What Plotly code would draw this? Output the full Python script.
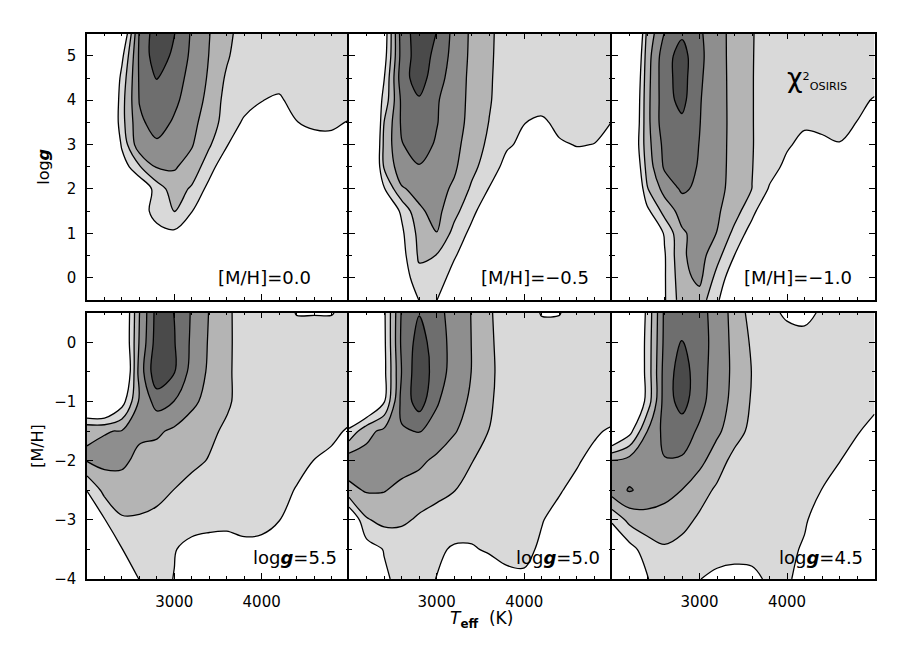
import plotly.graph_objects as go
from plotly.subplots import make_subplots

# grid
teff = [2000, 2200, 2400, 2600, 2800, 3000, 3200, 3400, 3600, 3800, 4000, 4200, 4400, 4600, 4800, 5000]
logg = [5.5, 5.0, 4.5, 4.0, 3.5, 3.0, 2.5, 2.0, 1.5, 1.0, 0.5, 0.0, -0.5]
mh = [0.5, 0.0, -0.5, -1.0, -1.5, -2.0, -2.5, -3.0, -3.5, -4.0]

# chi2 contour level at each grid node (0 = outside outer contour, >5 = best fit)
# rows go from top of the panel to the bottom
lev_mh00 = [
    [0, 0, -0.42, 4.11, 5.6, 5.03, 3.87, 3.03, 2.27, 1.55, 1.5, 1.5, 1.5, 1.5, 1.5, 1.5],
    [0, -0.5, 0.73, 4.18, 5.6, 4.77, 3.8, 2.97, 2.14, 1.35, 1.5, 1.5, 1.5, 1.5, 1.5, 1.5],
    [0, -1.7, 1.35, 4.12, 5.05, 4.41, 3.69, 2.87, 1.85, 1.5, 1.5, 1.5, 1.5, 1.5, 1.5, 1.5],
    [0, -1.68, 1.63, 4.05, 4.6, 4.2, 3.52, 2.72, 1.65, 1.4, 1.03, 0.8, 1.52, 1.5, 1.5, 1.5],
    [0, -1.45, 1.65, 3.8, 4.4, 3.88, 3.3, 2.47, 1.59, 0.85, 0.6, 0.6, 0.97, 1.2, 1.15, 0.95],
    [0, -2.3, 1.2, 3.7, 3.85, 3.6, 3.08, 2.12, 1.06, 0.5, 0.4, 0.4, 0.5, 0.58, 0.73, 0.6],
    [0, 0, 0.35, 1.9, 3.1, 3.1, 2.6, 1.44, 0.2, 0.2, 0.2, 0.2, 0.2, 0.2, 0.2, 0.2],
    [0, 0, 0, -0.1, 1.48, 2.5, 1.86, 0.66, 0.2, 0.2, 0.2, 0.2, 0.2, 0.2, 0.2, 0.2],
    [0, 0, 0, 0.22, 1.6, 2.02, 1.04, 0, 0, 0, 0, 0, 0, 0, 0, 0],
    [0, 0, 0, 0, 0.49, 0.8, 0, 0, 0, 0, 0, 0, 0, 0, 0, 0],
    [0, 0, 0, 0, 0, 0, 0, 0, 0, 0, 0, 0, 0, 0, 0, 0],
    [0, 0, 0, 0, 0, 0, 0, 0, 0, 0, 0, 0, 0, 0, 0, 0],
    [0, 0, 0, 0, 0, 0, 0, 0, 0, 0, 0, 0, 0, 0, 0, 0],
]
lev_mh05 = [
    [0, 0, 0.3, 4.5, 5.5, 4.98, 3.68, 2.83, 2.19, 1.52, 1.5, 1.5, 1.5, 1.5, 1.5, 1.5],
    [0, 0, 0.5, 4.4, 5.5, 4.74, 3.62, 2.81, 2.16, 1.51, 1.5, 1.5, 1.5, 1.5, 1.5, 1.5],
    [0, 0, 0.95, 4.6, 5.45, 4.44, 3.5, 2.78, 2.13, 1.45, 1.5, 1.5, 1.5, 1.5, 1.5, 1.5],
    [0, -1, 1.3, 4.2, 4.9, 4.1, 3.44, 2.76, 2.09, 1.41, 1.5, 1.5, 1.5, 1.5, 1.5, 1.5],
    [0, -3, 2.0, 4.15, 4.5, 4.05, 3.4, 2.71, 1.97, 1.5, 1.02, 0.8, 1.3, 1.4, 1.3, 0.97],
    [0, -2.8, 2.25, 3.95, 4.4, 3.89, 3.28, 2.55, 1.78, 1.12, 0.8, 0.6, 0.87, 1.05, 0.98, 0.7],
    [0, -2.4, 2.12, 3.6, 3.95, 3.6, 3.15, 2.29, 1.48, 0.69, 0.5, 0.5, 0.5, 0.5, 0.5, 0.5],
    [0, 0, 0.9, 2.89, 3.3, 3.35, 2.84, 1.84, 0.95, 0.5, 0.5, 0.5, 0.5, 0.5, 0.5, 0.5],
    [0, 0, 0, 1.15, 2.85, 3.3, 2.32, 1.27, 0.29, 0.3, 0.3, 0.3, 0.3, 0.3, 0.3, 0.3],
    [0, 0, 0, 0.8, 2.3, 2.98, 1.67, 0.72, 0.3, 0.3, 0.3, 0.3, 0.3, 0.3, 0.3, 0.3],
    [0, 0, 0, 0.6, 2.15, 1.98, 1.12, 0.22, 0.2, 0.2, 0.2, 0.2, 0.2, 0.2, 0.2, 0.2],
    [0, 0, 0, 0.3, 1.7, 1.6, 0.53, 0.2, 0.2, 0.2, 0.2, 0.2, 0.2, 0.2, 0.2, 0.2],
    [0, 0, 0, 0.2, 1.02, 1.02, 0.2, 0.2, 0.2, 0.2, 0.2, 0.2, 0.2, 0.2, 0.2, 0.2],
]
lev_mh10 = [
    [0, -2.8, 2.25, 4.05, 4.85, 4.15, 3.37, 2.67, 2.07, 1.46, 1.5, 1.5, 1.5, 1.5, 1.5, 1.5],
    [0, -2.13, 2.5, 4.6, 5.4, 4.23, 3.37, 2.68, 2.06, 1.43, 1.5, 1.5, 1.5, 1.5, 1.5, 1.5],
    [0, -1.6, 2.6, 4.64, 5.4, 4.15, 3.37, 2.7, 2.05, 1.43, 1.5, 1.5, 1.5, 1.5, 1.5, 1.5],
    [0, -1.31, 2.67, 4.59, 5.3, 4.07, 3.37, 2.71, 2.05, 1.43, 1.5, 1.5, 1.5, 1.5, 1.3, 0.9],
    [0, -1.14, 2.67, 4.6, 4.8, 4.03, 3.37, 2.72, 2.05, 1.43, 1.3, 1.15, 1.3, 1.35, 0.98, 0.6],
    [0, -0.76, 2.6, 4.3, 4.45, 3.98, 3.36, 2.71, 2.04, 1.57, 1.12, 0.73, 0.75, 0.95, 0.6, 0.3],
    [0, -1.23, 2.37, 4.15, 4.4, 3.92, 3.33, 2.71, 2.03, 1.39, 0.76, 0.5, 0.5, 0.5, 0.5, 0.3],
    [0, -2, 1.9, 3.36, 4.15, 3.8, 3.28, 2.68, 1.99, 0.9, 0.5, 0.5, 0.5, 0.5, 0.5, 0.3],
    [0, 0, 0.7, 2.37, 3.4, 3.55, 3.15, 2.41, 1.3, 0.0, 0.3, 0.3, 0.3, 0.3, 0.3, 0.3],
    [0, 0, -0.69, 1.12, 2.85, 3.4, 2.98, 1.72, 0.52, 0.3, 0.3, 0.3, 0.3, 0.3, 0.3, 0.3],
    [0, 0, 0, 0.9, 2.86, 3.4, 2.35, 0.99, 0.3, 0.3, 0.3, 0.3, 0.3, 0.3, 0.3, 0.3],
    [0, 0, 0, 0.9, 2.67, 3.25, 1.66, 0.27, 0.3, 0.3, 0.3, 0.3, 0.3, 0.3, 0.3, 0.3],
    [0, 0, 0, 0.9, 2.5, 2.6, 1.1, 0.3, 0.3, 0.3, 0.3, 0.3, 0.3, 0.3, 0.3, 0.3],
]
lev_g55 = [
    [0, 0, -0.54, 2.98, 5.4, 4.98, 3.9, 2.96, 2.23, 1.48, 1.5, 1.5, 0.95, 0.95, 0.95, 1.3],
    [0, 0, -0.54, 3.1, 5.5, 5.05, 3.82, 2.9, 2.24, 1.48, 1.5, 1.5, 1.5, 1.5, 1.5, 1.5],
    [0, 0, -1.18, 3.4, 5.8, 5.05, 3.64, 2.84, 2.23, 1.45, 1.5, 1.5, 1.5, 1.5, 1.5, 1.5],
    [-1.5, -1.5, 0.5, 3.15, 4.4, 3.98, 3.23, 2.65, 2.14, 1.65, 1.5, 1.5, 1.5, 1.5, 1.5, 1.5],
    [2.95, 2.95, 3.05, 3.2, 3.15, 2.83, 2.5, 2.18, 1.85, 1.6, 1.5, 1.5, 1.4, 1.35, 1.2, 0.9],
    [3.05, 3.3, 3.2, 2.75, 2.6, 2.45, 2.2, 1.95, 1.8, 1.6, 1.45, 1.3, 1.15, 0.99, 0.8, 0.6],
    [1.02, 2.3, 2.55, 2.45, 2.3, 1.98, 1.7, 1.55, 1.45, 1.35, 1.25, 1.15, 0.97, 0.7, 0.5, 0.3],
    [0.4, 0.95, 1.9, 1.9, 1.75, 1.6, 1.4, 1.3, 1.25, 1.2, 1.15, 1.02, 0.6, 0.4, 0.3, 0.2],
    [0, 0.5, 0.98, 1.3, 1.35, 1.05, 0.7, 0.6, 0.6, 0.85, 0.85, 0.6, 0.3, 0.2, 0.2, 0.1],
    [0, 0, 0.5, 1.02, 1.3, 0.97, 0.3, 0.2, 0.2, 0.2, 0.2, 0.2, 0.2, 0.2, 0.2, 0.2],
]
lev_g50 = [
    [0, 0, 0.81, 4.1, 4.95, 4.3, 3.63, 2.96, 2.15, 1.36, 1.5, 0.93, 0.95, 1.5, 1.5, 1.5],
    [0, 0, 0.75, 4.2, 5.4, 4.53, 3.61, 2.98, 2.21, 1.42, 1.5, 1.5, 1.5, 1.5, 1.5, 1.5],
    [0, 0, 0.7, 4.02, 5.7, 4.51, 3.6, 2.98, 2.25, 1.48, 1.5, 1.5, 1.5, 1.5, 1.5, 1.5],
    [-1, -1, 0.9, 4.3, 5.5, 4.1, 3.44, 2.83, 2.15, 1.49, 1.5, 1.5, 1.5, 1.5, 1.5, 1.5],
    [1.2, 2.7, 3.23, 3.9, 4.05, 3.65, 3.09, 2.52, 1.98, 1.85, 1.7, 1.55, 1.4, 1.3, 1.1, 0.9],
    [3.6, 3.4, 3.5, 3.4, 3.2, 2.8, 2.4, 2.02, 1.8, 1.6, 1.45, 1.3, 1.2, 1.07, 0.8, 0.6],
    [2.72, 3.1, 3.05, 2.75, 2.55, 2.3, 2.02, 1.8, 1.6, 1.45, 1.3, 1.2, 1.05, 0.81, 0.5, 0.3],
    [-0.3, 1.9, 2.3, 2.2, 1.85, 1.6, 1.45, 1.35, 1.25, 1.18, 1.1, 1.03, 0.8, 0.5, 0.3, 0.2],
    [0, 0.5, 1.05, 1.3, 1.35, 1.15, 0.9, 0.92, 1.1, 1.2, 1.15, 0.9, 0.5, 0.3, 0.3, 0.3],
    [0, 0, 0.84, 1.3, 1.3, 0.98, 0.3, 0.2, 0.475, 0.83, 0.91, 0.5, 0.3, 0.2, 0.2, 0.2],
]
lev_g45 = [
    [0, -0.9, 1.2, 4.2, 4.6, 4.4, 3.54, 2.68, 1.58, 1.3, 0.8, 0.6, 1.2, 1.5, 1.5, 1.5],
    [0, -0.8, 1.3, 4.25, 5.05, 4.5, 3.55, 2.75, 1.85, 1.5, 1.5, 1.5, 1.5, 1.5, 1.5, 1.5],
    [0, -0.8, 1.3, 4.41, 5.5, 4.41, 3.54, 2.79, 1.97, 1.5, 1.5, 1.5, 1.5, 1.5, 1.5, 1.5],
    [0, -0.8, 1.3, 4.46, 5.4, 4.31, 3.46, 2.72, 1.9, 1.6, 1.5, 1.5, 1.5, 1.45, 1.3, 1.15],
    [-1, 0.6, 2.98, 4.3, 4.45, 3.86, 3.21, 2.4, 1.75, 1.65, 1.55, 1.45, 1.35, 1.22, 1.05, 0.8],
    [3.05, 3.4, 3.6, 3.95, 3.9, 3.3, 2.44, 1.7, 1.6, 1.5, 1.4, 1.3, 1.18, 1.02, 0.75, 0.5],
    [3.5, 4.08, 3.7, 3.4, 2.98, 2.37, 1.85, 1.65, 1.5, 1.4, 1.3, 1.18, 0.99, 0.6, 0.4, 0.3],
    [1.2, 2.3, 2.6, 2.5, 2.3, 1.85, 1.6, 1.45, 1.35, 1.25, 1.15, 1.05, 0.8, 0.4, 0.3, 0.3],
    [-0.5, 0.6, 1.5, 1.9, 1.7, 1.5, 1.35, 1.25, 1.2, 1.15, 1.1, 0.95, 0.5, 0.3, 0.3, 0.3],
    [0, 0.2, 0.95, 1.5, 1.4, 1.02, 0.8, 0.75, 0.85, 1.1, 1.15, 0.6, 0.3, 0.3, 0.3, 0.3],
]

panel_labels = ['[M/H]=0.0', '[M/H]=\u22120.5', '[M/H]=\u22121.0',
                'log<b><i>g</i></b>=5.5', 'log<b><i>g</i></b>=5.0', 'log<b><i>g</i></b>=4.5']

grays = ['#ffffff', '#d9d9d9', '#b4b4b4', '#8e8e8e', '#6e6e6e', '#4a4a4a']
cscale = []
for i, g in enumerate(grays):
    lo = max(0, (i - 0.5) / 5)
    hi = min(1, (i + 0.5) / 5)
    cscale.append([lo, g])
    cscale.append([hi, g])

FONT = 'DejaVu Sans'
W, H, OFF = 900, 650, 8  # page body margin shifts the plot by OFF px


def px_x(p):
    return (p - OFF) / W


def px_y(p):
    return 1 - (p - OFF) / H


fig = make_subplots(rows=2, cols=3, horizontal_spacing=0, vertical_spacing=0.02)

panels = [(lev_mh00, logg), (lev_mh05, logg), (lev_mh10, logg),
          (lev_g55, mh), (lev_g50, mh), (lev_g45, mh)]

for i, (z, yv) in enumerate(panels):
    r = i // 3 + 1
    c = i % 3 + 1
    fig.add_trace(go.Contour(
        x=teff, y=yv[::-1], z=z[::-1],
        autocontour=False,
        contours=dict(start=1, end=5, size=1, coloring='fill', showlines=True),
        colorscale=cscale, showscale=False,
        line=dict(color='black', width=1.3, smoothing=1.0),
        hoverinfo='skip',
    ), row=r, col=c)

xdom = [[px_x(87), px_x(349)], [px_x(349), px_x(612)], [px_x(612), px_x(874.5)]]
ydom = [[px_y(304), px_y(34)], [px_y(587), px_y(317)]]

for i in range(6):
    r = i // 3
    c = i % 3
    sfx = '' if i == 0 else str(i + 1)
    fig.layout['xaxis' + sfx].update(
        domain=xdom[c], range=[2000, 5000],
        tickmode='array', tickvals=[3000, 4000],
        showticklabels=(r == 1),
        ticks='inside', ticklen=6, tickwidth=1.2, tickcolor='black',
        minor=dict(tickmode='linear', tick0=2000, dtick=200, ticklen=3, tickwidth=1.2, tickcolor='black', ticks='inside'),
        showline=True, linecolor='black', linewidth=1.5, mirror='allticks',
        showgrid=False, zeroline=False,
        tickfont=dict(family=FONT, size=15, color='black'),
        ticklabelstandoff=8,
    )
    if r == 0:
        yrng = [-0.5, 5.5]
    else:
        yrng = [-4, 0.5]
    fig.layout['yaxis' + sfx].update(
        domain=ydom[r], range=yrng,
        tickmode='linear', tick0=0, dtick=1,
        showticklabels=(c == 0),
        ticks='inside', ticklen=6, tickwidth=1.2, tickcolor='black',
        minor=dict(tickmode='linear', tick0=0, dtick=0.5, ticklen=3, tickwidth=1.2, tickcolor='black', ticks='inside'),
        showline=True, linecolor='black', linewidth=1.5, mirror='allticks',
        showgrid=False, zeroline=False,
        tickfont=dict(family=FONT, size=15, color='black'),
        ticklabelstandoff=6,
    )

annots = []
for i, txt in enumerate(panel_labels):
    sfx = '' if i == 0 else str(i + 1)
    if i < 3:
        ax, ay = 3480, 0.0
    else:
        ax, ay = 3880, -3.63
    annots.append(dict(x=ax, y=ay, xref='x' + sfx, yref='y' + sfx, text=txt,
                       showarrow=False, xanchor='left', yanchor='middle',
                       font=dict(family=FONT, size=18, color='black')))

annots.append(dict(x=3980, y=4.52, xref='x3', yref='y3',
                   text="<span style='font-size:27px'>\u03c7</span><sup>2</sup><sub>OSIRIS</sub>",
                   showarrow=False, xanchor='left', yanchor='middle',
                   font=dict(family=FONT, size=16, color='black')))

annots.append(dict(x=px_x(44), y=px_y(169), xref='paper', yref='paper',
                   text='log<b><i>g</i></b>', textangle=-90, showarrow=False,
                   xanchor='center', yanchor='middle',
                   font=dict(family=FONT, size=16, color='black')))
annots.append(dict(x=px_x(38), y=px_y(452), xref='paper', yref='paper',
                   text='[M/H]', textangle=-90, showarrow=False,
                   xanchor='center', yanchor='middle',
                   font=dict(family=FONT, size=16, color='black')))
annots.append(dict(x=px_x(481), y=px_y(628), xref='paper', yref='paper',
                   text="<i>T</i><sub><b>eff</b></sub>  (K)", showarrow=False,
                   xanchor='center', yanchor='middle',
                   font=dict(family=FONT, size=17, color='black')))

fig.update_layout(
    width=W, height=H,
    margin=dict(l=0, r=0, t=0, b=0),
    paper_bgcolor='white', plot_bgcolor='white',
    showlegend=False,
    annotations=annots,
)

fig.write_html("out.html")
